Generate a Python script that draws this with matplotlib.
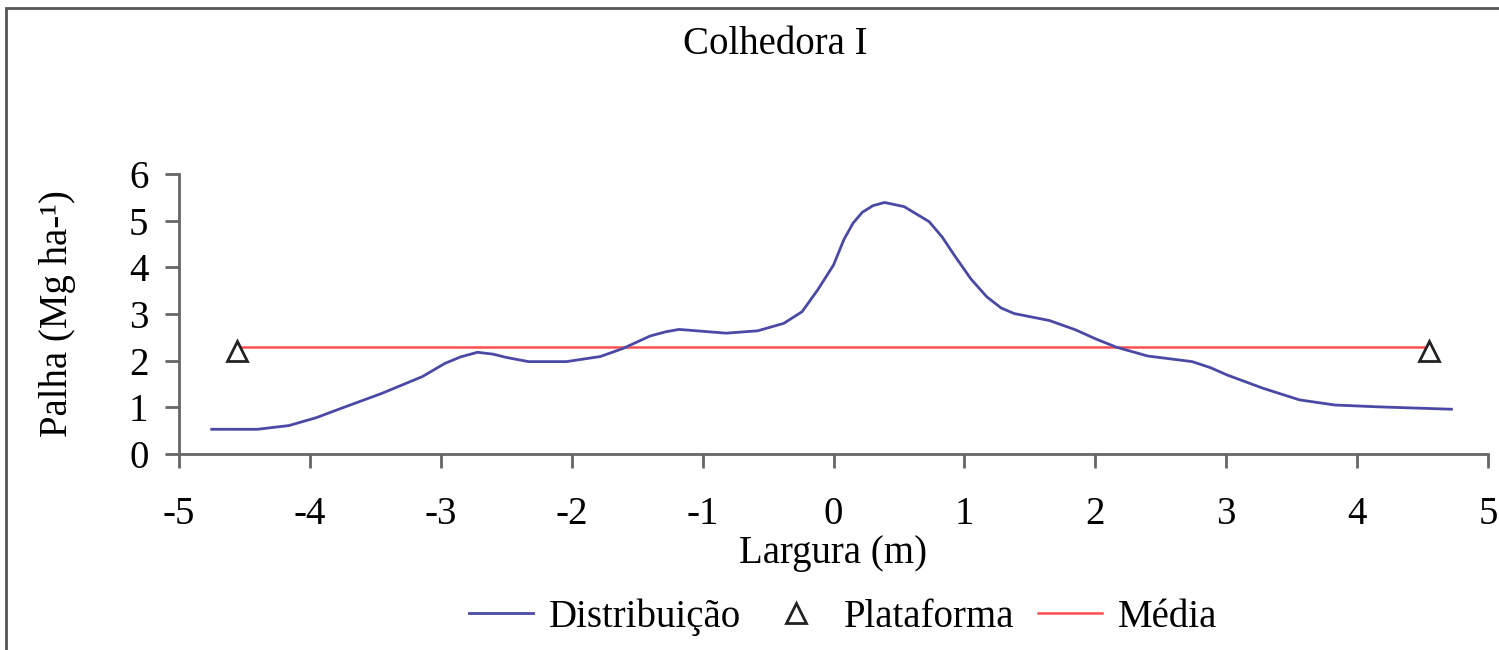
import numpy as np
import matplotlib
matplotlib.use('Agg')
import matplotlib.pyplot as plt
from matplotlib.patches import Rectangle

plt.rcParams['font.family'] = ['Liberation Serif', 'DejaVu Serif']
plt.rcParams['axes.unicode_minus'] = False

# Data
largura = [-4.75, -4.40, -4.16, -3.95, -3.76, -3.45, -3.14, -2.97, -2.85, -2.72,
           -2.60, -2.50, -2.33, -2.04, -1.78, -1.61, -1.40, -1.28, -1.18, -1.00,
           -0.82, -0.58, -0.38, -0.24, -0.12, 0.00, 0.08, 0.15, 0.22, 0.30,
           0.39, 0.54, 0.73, 0.83, 0.93, 1.05, 1.17, 1.28, 1.38, 1.65,
           1.85, 2.00, 2.16, 2.40, 2.74, 2.88, 3.01, 3.28, 3.56, 3.83,
           4.17, 4.72]
palha = [0.53, 0.53, 0.61, 0.78, 0.98, 1.30, 1.66, 1.94, 2.08, 2.18,
         2.14, 2.07, 1.98, 1.98, 2.09, 2.26, 2.53, 2.62, 2.67, 2.63,
         2.59, 2.64, 2.80, 3.05, 3.52, 4.05, 4.60, 4.95, 5.18, 5.32,
         5.39, 5.30, 4.98, 4.65, 4.23, 3.75, 3.37, 3.13, 3.01, 2.86,
         2.66, 2.47, 2.29, 2.10, 1.98, 1.85, 1.69, 1.41, 1.16, 1.05,
         1.01, 0.96]
plataforma_x = [-4.56, 4.55]
plataforma_y = [2.21, 2.21]
media = 2.3

fig = plt.figure(figsize=(14.99, 6.5), dpi=100)
ax = fig.add_axes([0.1194, 0.3015, 0.8733, 0.4308])

ax.plot(largura, palha, color='#4A4AA6', lw=2, label='Distribuição')
ax.plot(plataforma_x, plataforma_y, ls='none', marker='^', ms=14, mfc='white',
        mec='#222222', mew=2, label='Plataforma')
ax.plot(plataforma_x, [media, media], color='#FF5050', lw=1.8, label='Média',
        zorder=1)

ax.set_xlim(-5, 5)
ax.set_ylim(0, 6)
ax.set_xticks(range(-5, 6))
ax.set_yticks(range(0, 7))
for s in ['top', 'right']:
    ax.spines[s].set_visible(False)
for s in ['left', 'bottom']:
    ax.spines[s].set_color('#666666')
    ax.spines[s].set_linewidth(2)
ax.tick_params(direction='out', length=10, width=2, color='#666666',
               labelsize=28)
ax.tick_params(axis='x', pad=20)
ax.tick_params(axis='y', pad=12)
ax.set_xlabel('Largura (m)', fontsize=28, labelpad=2)
ax.set_ylabel('Palha (Mg ha-¹)', fontsize=28, labelpad=38)

fig.text(0.517, 0.931, 'Colhedora I', ha='center', va='center', fontsize=28)

fig.legend(loc='center', bbox_to_anchor=(0.5624, 0.051), ncol=3, frameon=False,
           fontsize=28, handlelength=1.65, handletextpad=0.4, columnspacing=0.6,
           borderaxespad=0, borderpad=0)

fig.patches.append(Rectangle((0.004, -0.1), 1.2, 1.088, transform=fig.transFigure,
                             fill=False, ec='#555555', lw=2))

fig.savefig('out.png', dpi=100)
